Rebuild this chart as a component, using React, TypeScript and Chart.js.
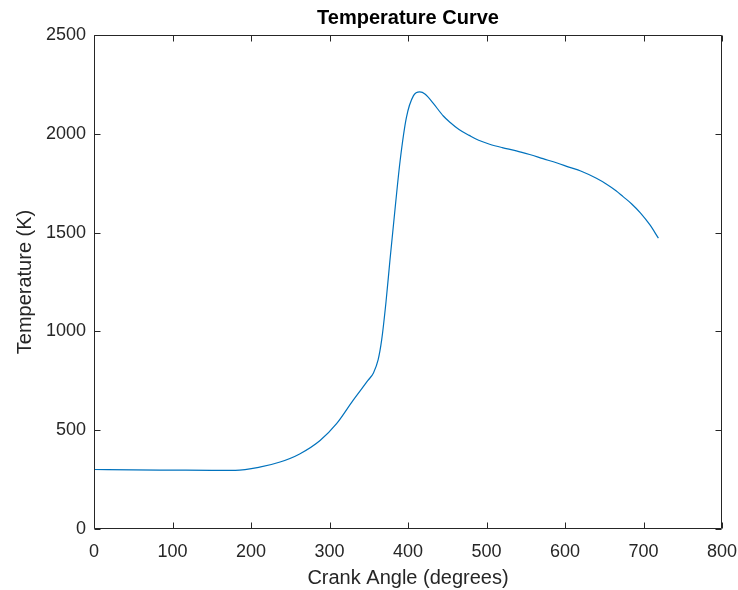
import React, { useEffect, useRef } from 'react';
import { Chart, registerables } from 'chart.js';

Chart.register(...registerables);

const crankAngle = [0, 50, 100, 150, 180, 211, 237, 262, 288, 309, 330, 349, 356, 362, 366.5, 372, 377, 384, 390, 398, 407, 415, 422, 432, 445, 453, 465, 478, 490, 504, 520, 538, 555, 572, 590, 606, 620, 640, 653, 665, 674, 685, 696, 708, 719];
const temperature = [301, 299, 298, 297, 297, 313, 339, 380, 448, 533, 651, 752, 790, 857, 958, 1150, 1360, 1640, 1865, 2083, 2193, 2212, 2200, 2155, 2090, 2060, 2022, 1992, 1967, 1947, 1930, 1914, 1895, 1874, 1852, 1830, 1812, 1775, 1745, 1712, 1682, 1645, 1600, 1540, 1472];

const xTicks = [0, 100, 200, 300, 400, 500, 600, 700, 800];
const yTicks = [0, 500, 1000, 1500, 2000, 2500];

const FONT = '"Liberation Sans", Arial, Helvetica, sans-serif';
const AXIS = '#262626';

const boxPlugin = {
  id: 'matlabBox',
  afterLayout(chart: any) {
    const tb = chart.titleBlock;
    if (tb) {
      tb.left = chart.chartArea.left;
      tb.right = chart.chartArea.right;
      tb.width = chart.chartArea.right - chart.chartArea.left;
    }
  },
  afterDraw(chart: any) {
    const { ctx, chartArea: a, scales } = chart;
    const tl = 6;
    ctx.save();
    ctx.strokeStyle = AXIS;
    ctx.lineWidth = 1;
    const L = Math.round(a.left) + 0.5;
    const R = Math.round(a.right) - 0.5;
    const T = Math.round(a.top) + 0.5;
    const B = Math.round(a.bottom) - 0.5;
    ctx.beginPath();
    ctx.rect(L, T, R - L, B - T);
    ctx.stroke();
    ctx.beginPath();
    for (const v of xTicks) {
      const px = Math.round(scales.x.getPixelForValue(v)) + 0.5;
      ctx.moveTo(px, B);
      ctx.lineTo(px, B - tl);
      ctx.moveTo(px, T);
      ctx.lineTo(px, T + tl);
    }
    for (const v of yTicks) {
      const py = Math.round(scales.y.getPixelForValue(v)) + 0.5;
      ctx.moveTo(L, py);
      ctx.lineTo(L + tl, py);
      ctx.moveTo(R, py);
      ctx.lineTo(R - tl, py);
    }
    ctx.stroke();
    ctx.restore();
  },
};

export default function App() {
  const ref = useRef<HTMLCanvasElement | null>(null);

  useEffect(() => {
    document.body.style.margin = '0';
    document.body.style.background = '#ffffff';
    if (!ref.current) return;
    const chart = new Chart(ref.current, {
      type: 'line',
      data: {
        datasets: [
          {
            data: crankAngle.map((x, i) => ({ x, y: temperature[i] })),
            borderColor: '#0072BD',
            borderWidth: 1.2,
            pointRadius: 0,
            fill: false,
            cubicInterpolationMode: 'monotone',
          },
        ],
      },
      options: {
        animation: false,
        responsive: true,
        maintainAspectRatio: false,
        layout: { padding: { left: 0, right: 16, top: 0, bottom: 0 } },
        plugins: {
          legend: { display: false },
          tooltip: { enabled: false },
          title: {
            display: true,
            text: 'Temperature Curve',
            color: '#000000',
            font: { family: FONT, size: 20, weight: 'bold' },
            padding: { top: 6, bottom: 5 },
          },
        },
        scales: {
          x: {
            type: 'linear',
            min: 0,
            max: 800,
            afterBuildTicks: (s: any) => {
              s.ticks = xTicks.map((v) => ({ value: v }));
            },
            afterFit: (s: any) => {
              s.height = 61;
              s.paddingLeft = 0;
              s.paddingRight = 0;
            },
            grid: { display: false, drawTicks: false },
            border: { display: false },
            ticks: {
              color: AXIS,
              padding: 12,
              font: { family: FONT, size: 18 },
              maxRotation: 0,
              callback: (v: any) => String(v),
            },
            title: {
              display: true,
              text: 'Crank Angle (degrees)',
              color: AXIS,
              font: { family: FONT, size: 20 },
              padding: { top: 0, bottom: 0 },
            },
          },
          y: {
            type: 'linear',
            min: 0,
            max: 2500,
            afterBuildTicks: (s: any) => {
              s.ticks = yTicks.map((v) => ({ value: v }));
            },
            afterFit: (s: any) => {
              s.width = 94;
            },
            grid: { display: false, drawTicks: false },
            border: { display: false },
            ticks: {
              color: AXIS,
              padding: 8,
              font: { family: FONT, size: 18 },
              callback: (v: any) => String(v),
            },
            title: {
              display: true,
              text: 'Temperature (K)',
              color: AXIS,
              font: { family: FONT, size: 20 },
              padding: { top: 13, bottom: 0 },
            },
          },
        },
      },
      plugins: [boxPlugin],
    } as any);
    return () => chart.destroy();
  }, []);

  return (
    <div style={{ position: 'absolute', left: 0, top: 0, width: 738, height: 590, background: '#fff' }}>
      <canvas ref={ref} />
    </div>
  );
}
